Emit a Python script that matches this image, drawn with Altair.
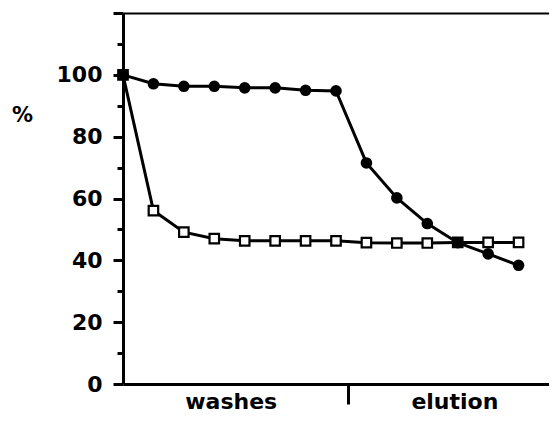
import altair as alt
import pandas as pd

# --- data ---
idx = list(range(14))
filled_series = [100, 97.1, 96.3, 96.3, 95.8, 95.8, 95.0, 94.8, 71.5, 60.2, 51.9, 45.7, 42.1, 38.4]
open_series = [100, 56.1, 49.1, 47.0, 46.3, 46.3, 46.3, 46.3, 45.7, 45.6, 45.6, 45.8, 45.8, 45.8]

phase_labels = ["washes", "elution"]
phase_pos = [3.54, 10.89]
divider = [7.4]

major_ticks = [0, 20, 40, 60, 80, 100, 120]
minor_ticks = [10, 30, 50, 70, 90, 110]

df_open = pd.DataFrame({"i": idx, "v": open_series})
df_fill = pd.DataFrame({"i": idx, "v": filled_series})

FONT = "DejaVu Sans"
xs = alt.Scale(domain=[0, 14], nice=False, zero=False)
ys = alt.Scale(domain=[0, 120], nice=False)

ax_x_main = alt.Axis(values=divider, tickSize=20, tickWidth=3, labels=False,
                     domainWidth=3, title=None, grid=False, orient="bottom")
ax_x_lab = alt.Axis(values=phase_pos, ticks=False, domain=False, title=None, grid=False,
                    orient="bottom", labelFont=FONT, labelFontSize=22, labelFontWeight="bold",
                    labelPadding=7,
                    labelExpr=f"datum.value < {divider[0]} ? '{phase_labels[0]}' : '{phase_labels[1]}'")
ax_x_top = alt.Axis(orient="top", ticks=False, labels=False, domainWidth=2, title=None, grid=False)

ax_y_main = alt.Axis(values=major_ticks, tickSize=10, tickWidth=3, domainWidth=3,
                     labelExpr="datum.value <= 100 ? datum.label : ''",
                     labelFont=FONT, labelFontSize=22, labelFontWeight="bold", labelPadding=11,
                     title="%", titleAngle=0, titleX=-101, titleY=102, titleAlign="center",
                     titleBaseline="middle", titleFont=FONT, titleFontSize=21,
                     titleFontWeight="bold", grid=False, orient="left")
ax_y_minor = alt.Axis(values=minor_ticks, tickSize=6, tickWidth=3, labels=False,
                      domain=False, title=None, grid=False, orient="left")

sq_line = alt.Chart(df_open).mark_line(color="black", strokeWidth=3).encode(
    x=alt.X("i:Q", scale=xs, axis=ax_x_main),
    y=alt.Y("v:Q", scale=ys, axis=ax_y_main),
)
sq_pts = alt.Chart(df_open).mark_square(fill="white", stroke="black", strokeWidth=2.2,
                                        size=90, opacity=1).encode(
    x=alt.X("i:Q", scale=xs, axis=ax_x_lab),
    y=alt.Y("v:Q", scale=ys, axis=ax_y_minor),
)
ci_line = alt.Chart(df_fill).mark_line(color="black", strokeWidth=3).encode(
    x=alt.X("i:Q", scale=xs, axis=ax_x_top),
    y=alt.Y("v:Q", scale=ys, axis=None),
)
ci_pts = alt.Chart(df_fill).mark_circle(color="black", size=135, opacity=1).encode(
    x=alt.X("i:Q", scale=xs, axis=None),
    y=alt.Y("v:Q", scale=ys, axis=None),
)

chart = (
    alt.layer(sq_line, sq_pts, ci_line, ci_pts)
    .resolve_axis(x="independent", y="independent")
    .properties(width=426, height=371, autosize=alt.AutoSizeParams(type="none"),
                padding={"left": 115, "top": 5, "right": 0, "bottom": 40})
    .configure_view(stroke=None)
    .configure_axis(domainColor="black", tickColor="black", labelColor="black", titleColor="black")
)

chart.save("out.html", embed_options={"renderer": "svg", "actions": False})
